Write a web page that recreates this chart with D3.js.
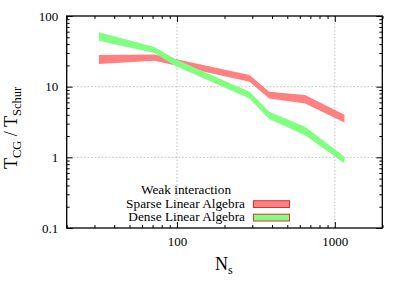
<!DOCTYPE html>
<html>
<head>
<meta charset="utf-8">
<script src="https://cdn.jsdelivr.net/npm/d3@7"></script>
<style>
  html, body { margin: 0; padding: 0; background: #fff; }
  svg { display: block; }
  text { font-family: "Liberation Serif", "DejaVu Serif", serif; fill: #000; }
</style>
</head>
<body>
<svg id="chart" width="407" height="285"></svg>
<script>
// ---- data ----
const sparseN    = [32, 72, 288, 384, 648, 1152];
const sparseLow  = [21, 23.3, 11.7, 6.8, 5.8, 3.1];
const sparseHigh = [28, 28.5, 14.6, 8.5, 7.6, 4.0];

const denseN    = [32, 72, 98, 288, 384, 648, 1152];
const denseLow  = [44.7, 30, 19.6, 6.8, 3.5, 2.06, 0.82];
const denseHigh = [58.8, 36.4, 24.4, 8.5, 4.4, 2.7, 1.02];

const xMajorTicks = [100, 1000];
const xTickLabels = ["100", "1000"];
const yMajorTicks = [0.1, 1, 10, 100];
const yTickLabels = ["0.1", "1", "10", "100"];
const legendTitle = "Weak interaction";
const seriesNames = ["Sparse Linear Algebra", "Dense Linear Algebra"];
const seriesColors = ["#ff8080", "#80ff80"];

// ---- layout ----
const FONT = "'Liberation Serif', 'DejaVu Serif', serif";
const L = 66.7, R = 382.3, T = 16, B = 228;
const svg = d3.select("#chart");
const x = d3.scaleLog().domain([20, 2000]).range([L, R]);
const y = d3.scaleLog().domain([0.1, 100]).range([B, T]);

const xMinor = [];
[10, 100, 1000].forEach(d => { for (let k = 2; k <= 9; k++) { const v = d * k; if (v >= 20 && v <= 2000) xMinor.push(v); } });
xMinor.push(2000);
const yMinor = [];
[0.1, 1, 10].forEach(d => { for (let k = 2; k <= 9; k++) yMinor.push(d * k); });

// grid
const grid = svg.append("g").attr("stroke", "#b0b0b0").attr("stroke-width", 0.8).attr("stroke-dasharray", "1.5,2");
xMajorTicks.forEach(v => grid.append("line").attr("x1", x(v)).attr("x2", x(v)).attr("y1", T).attr("y2", B));
yMajorTicks.filter(v => v > 0.1 && v < 100).forEach(v => grid.append("line").attr("x1", L).attr("x2", R).attr("y1", y(v)).attr("y2", y(v)));

// bands
const series = [
  { n: sparseN, lo: sparseLow, hi: sparseHigh, color: seriesColors[0] },
  { n: denseN, lo: denseLow, hi: denseHigh, color: seriesColors[1] }
];
const area = d3.area().x(d => x(d.n)).y0(d => y(d.lo)).y1(d => y(d.hi));
series.forEach(s => {
  const pts = s.n.map((n, i) => ({ n: n, lo: s.lo[i], hi: s.hi[i] }));
  svg.append("path").datum(pts).attr("d", area).attr("fill", s.color);
});

// axes
function styleAxis(g) {
  g.attr("font-family", FONT);
  g.select(".domain").remove();
  g.selectAll("line").attr("stroke", "#000").attr("stroke-width", 1);
  g.selectAll("text").attr("font-family", FONT).style("font-size", "13px").attr("fill", "#000");
}
const fmtX = d => xTickLabels[xMajorTicks.indexOf(d)];
const fmtY = d => yTickLabels[yMajorTicks.indexOf(d)];

svg.append("g").attr("transform", `translate(0,${B})`)
  .call(d3.axisBottom(x).tickValues(xMajorTicks).tickFormat(fmtX).tickSizeInner(-6).tickSizeOuter(0).tickPadding(8.5)).call(styleAxis);
svg.append("g").attr("transform", `translate(0,${B})`)
  .call(d3.axisBottom(x).tickValues(xMinor).tickFormat("").tickSizeInner(-3).tickSizeOuter(0)).call(styleAxis);
svg.append("g").attr("transform", `translate(0,${T})`)
  .call(d3.axisTop(x).tickValues(xMajorTicks).tickFormat("").tickSizeInner(-6).tickSizeOuter(0)).call(styleAxis);
svg.append("g").attr("transform", `translate(0,${T})`)
  .call(d3.axisTop(x).tickValues(xMinor).tickFormat("").tickSizeInner(-3).tickSizeOuter(0)).call(styleAxis);

svg.append("g").attr("transform", `translate(${L},0)`)
  .call(d3.axisLeft(y).tickValues(yMajorTicks).tickFormat(fmtY).tickSizeInner(-6).tickSizeOuter(0).tickPadding(8.4)).call(styleAxis);
svg.append("g").attr("transform", `translate(${L},0)`)
  .call(d3.axisLeft(y).tickValues(yMinor).tickFormat("").tickSizeInner(-3).tickSizeOuter(0)).call(styleAxis);
svg.append("g").attr("transform", `translate(${R},0)`)
  .call(d3.axisRight(y).tickValues(yMajorTicks).tickFormat("").tickSizeInner(-6).tickSizeOuter(0)).call(styleAxis);
svg.append("g").attr("transform", `translate(${R},0)`)
  .call(d3.axisRight(y).tickValues(yMinor).tickFormat("").tickSizeInner(-3).tickSizeOuter(0)).call(styleAxis);

// frame
svg.append("rect").attr("x", L).attr("y", T).attr("width", R - L).attr("height", B - T)
  .attr("fill", "none").attr("stroke", "#000").attr("stroke-width", 1.3);

// axis labels
const xl = svg.append("text").attr("x", 215).attr("y", 269.5).attr("font-family", FONT).style("font-size", "18px");
xl.append("tspan").text("N");
xl.append("tspan").attr("dy", 4).style("font-size", "12px").text("s");

const yl = svg.append("text").attr("transform", "translate(17,128) rotate(-90)")
  .attr("text-anchor", "middle").attr("font-family", FONT).style("font-size", "18px");
yl.append("tspan").text("T");
yl.append("tspan").attr("dy", 4).style("font-size", "12.5px").text("CG");
yl.append("tspan").attr("dy", -4).text(" / T");
yl.append("tspan").attr("dy", 4).style("font-size", "12.5px").text("Schur");

// legend
const lg = svg.append("g").attr("font-family", FONT);
lg.append("text").attr("x", 186).attr("y", 194).attr("text-anchor", "middle").attr("font-family", FONT)
  .style("font-size", "13.3px").text(legendTitle);
const rowY = [207.5, 221];
seriesNames.forEach((name, i) => {
  lg.append("text").attr("x", 245).attr("y", rowY[i]).attr("text-anchor", "end").attr("font-family", FONT)
    .style("font-size", "13.3px").text(name);
  lg.append("rect").attr("x", 253.5).attr("y", rowY[i] - 6.8).attr("width", 36).attr("height", 6.8)
    .attr("fill", seriesColors[i]).attr("stroke", "#e03030").attr("stroke-width", 1);
});
</script>
</body>
</html>
